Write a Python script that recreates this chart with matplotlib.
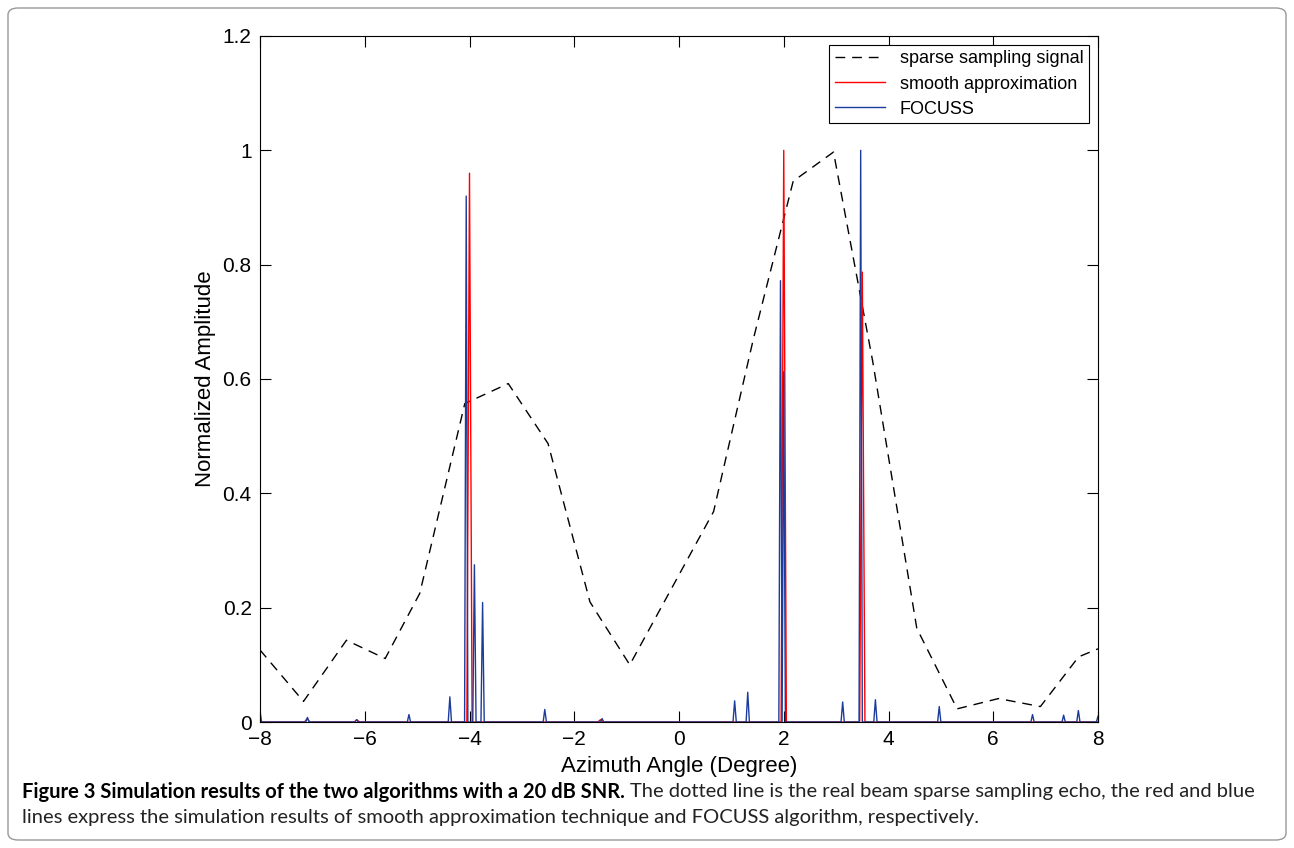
import numpy as np
import matplotlib
matplotlib.use('Agg')
from matplotlib import pyplot as plt
from matplotlib import font_manager
from matplotlib.patches import FancyBboxPatch

plt.rcParams['font.family'] = ['Liberation Sans', 'DejaVu Sans']

# real beam sparse sampling echo (dashed line)
echo_x = [-8.0, -7.17, -6.35, -5.61, -4.95, -4.09, -3.26, -2.50, -1.70, -0.94, -0.14,
          0.66, 1.42, 2.18, 2.95, 3.70, 4.54, 5.31, 6.10, 6.90, 7.63, 8.0]
echo_y = [0.126, 0.036, 0.143, 0.111, 0.225, 0.557, 0.592, 0.487, 0.210, 0.100, 0.234,
          0.368, 0.67, 0.946, 0.997, 0.63, 0.164, 0.023, 0.041, 0.027, 0.114, 0.128]

# FOCUSS result: nonzero samples (angle, amplitude)
focuss_pos = [-8.0, -7.08, -6.17, -5.15, -4.39, -4.07, -3.895, -3.76, -2.56, -1.48,
              1.05, 1.325, 1.95, 2.01, 3.13, 3.46, 3.76, 4.96, 6.75, 7.34, 7.64, 8.0]
focuss_amp = [0.018, 0.008, 0.004, 0.013, 0.044, 0.92, 0.275, 0.209, 0.022, 0.006,
              0.037, 0.052, 0.772, 0.613, 0.035, 1.0, 0.039, 0.027, 0.013, 0.012, 0.02, 0.01]

# smooth approximation result: nonzero samples
smooth_pos = [-7.1, -6.15, -4.0, -1.5, 2.0, 3.5]
smooth_amp = [0.006, 0.004, 0.96, 0.004, 1.0, 0.787]

# sampling grids of the two reconstructions
grid_b = np.linspace(-8, 8, 513)
grid_r = np.linspace(-8, 8, 321)
focuss = np.zeros_like(grid_b)
for p, a in zip(focuss_pos, focuss_amp):
    focuss[np.argmin(np.abs(grid_b - p))] = a
smooth = np.zeros_like(grid_r)
for p, a in zip(smooth_pos, smooth_amp):
    smooth[np.argmin(np.abs(grid_r - p))] = a

fig = plt.figure(figsize=(12.94, 8.48), dpi=100)
ax = fig.add_axes([260 / 1294, 1 - 722 / 848, 838 / 1294, 686 / 848])

ax.plot(echo_x, echo_y, '--', color='k', lw=1.0, dashes=(7, 5), label='sparse sampling signal')
ax.plot(grid_r, smooth, color='#ff0000', lw=1.0, label='smooth approximation')
ax.plot(grid_b, focuss, color='#1c3c9c', lw=1.0, label='FOCUSS')

ax.set_xlim(-8, 8)
ax.set_ylim(0, 1.2)
ax.set_xticks(np.arange(-8, 9, 2))
ax.set_yticks([0, 0.2, 0.4, 0.6, 0.8, 1.0, 1.2])
ax.set_yticklabels(['0', '0.2', '0.4', '0.6', '0.8', '1', '1.2'])
ax.tick_params(direction='in', top=True, right=True, length=8, width=0.8, labelsize=15, pad=6)
for s in ax.spines.values():
    s.set_linewidth(0.8)
ax.set_xlabel('Azimuth Angle (Degree)', fontsize=16, labelpad=5)
ax.set_ylabel('Normalized Amplitude', fontsize=16, labelpad=5)

leg = ax.legend(loc='upper right', fontsize=13, fancybox=False, framealpha=1,
                edgecolor='k', borderaxespad=0.5, handlelength=2.8, labelspacing=0.45,
                borderpad=0.3)
leg.get_frame().set_linewidth(0.8)

# rounded frame around the whole figure
frame = FancyBboxPatch((8 / 1294, 8 / 848), 1278 / 1294, 832 / 848,
                       boxstyle='round,pad=0,rounding_size=0.008',
                       transform=fig.transFigure, fill=False, edgecolor='#999999', lw=1.0)
fig.patches.append(frame)

# caption
names = {f.name for f in font_manager.fontManager.ttflist}
cap_font = 'Liberation Sans Narrow' if 'Liberation Sans Narrow' in names else 'Lato'
bold = fig.text(22 / 1294, 1 - 792 / 848, 'Figure 3 Simulation results of the two algorithms with a 20 dB SNR.',
                fontsize=14.5, fontweight='bold', family=cap_font, va='center', ha='left')
fig.canvas.draw()
bb = bold.get_window_extent(fig.canvas.get_renderer())
fig.text(bb.x1 / fig.bbox.width + 5 / 1294, 1 - 792 / 848,
         'The dotted line is the real beam sparse sampling echo, the red and blue',
         fontsize=14.5, family=cap_font, va='center', ha='left', color='#222222')
fig.text(22 / 1294, 1 - 818 / 848,
         'lines express the simulation results of smooth approximation technique and FOCUSS algorithm, respectively.',
         fontsize=14.5, family=cap_font, va='center', ha='left', color='#222222')

plt.savefig('out.png', dpi=100)
